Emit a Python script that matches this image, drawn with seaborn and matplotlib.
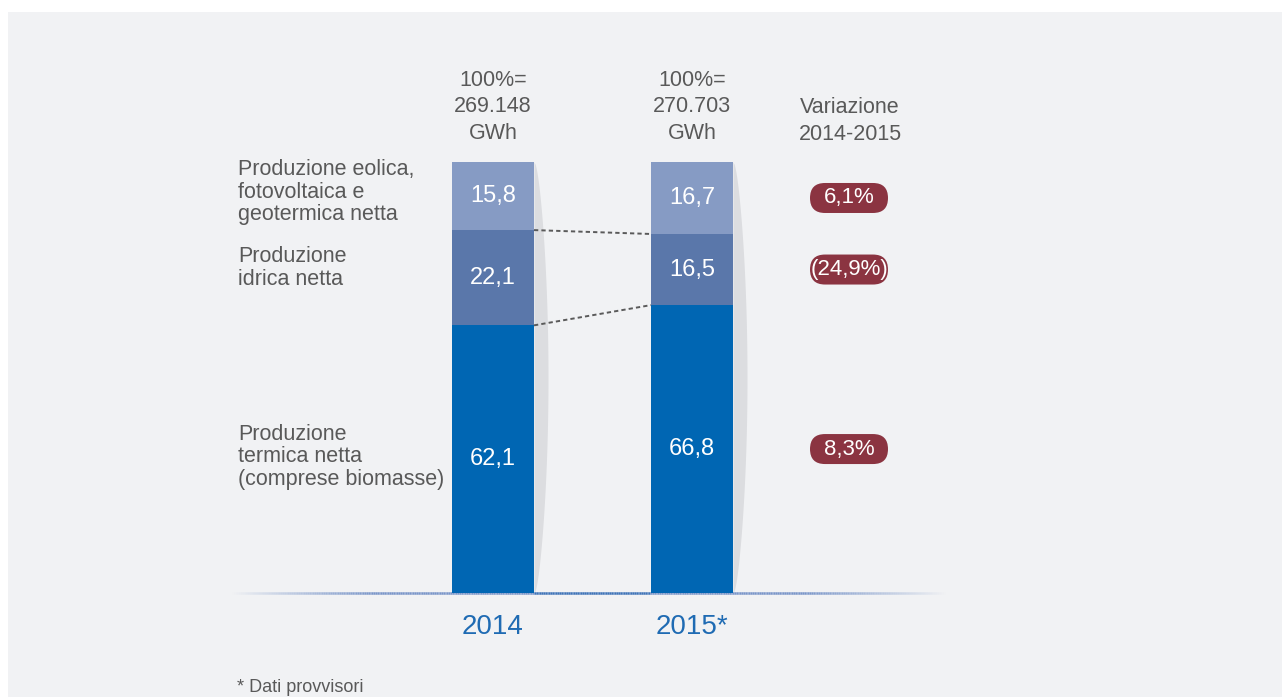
import numpy as np
import pandas as pd
import matplotlib
matplotlib.use("Agg")
import matplotlib.pyplot as plt
import seaborn as sns
from matplotlib.patches import Rectangle, FancyBboxPatch
from matplotlib.transforms import IdentityTransform
from matplotlib.collections import LineCollection

# ---- data -------------------------------------------------------------
years = ["2014", "2015*"]
totals_gwh = ["269.148", "270.703"]
source_labels = [
    "Produzione eolica,\nfotovoltaica e\ngeotermica netta",
    "Produzione\nidrica netta",
    "Produzione\ntermica netta\n(comprese biomasse)",
]
renewables = [15.8, 16.7]
hydro = [22.1, 16.5]
thermal = [62.1, 66.8]
changes = ["6,1%", "(24,9%)", "8,3%"]
footnote = "* Dati provvisori"

# ---- style ------------------------------------------------------------
W, H = 1282, 697
sns.set_theme(style="white")
plt.rcParams["font.family"] = ["Liberation Sans", "DejaVu Sans"]

C_REN = "#869bc4"
C_HYD = "#5a77aa"
C_THE = "#0066b3"
C_PILL = "#8b3441"
C_TEXT = "#595959"
C_YEAR = "#1f6bb3"
C_BG = "#f1f2f4"
C_SHADOW = "#dcdde0"

fig = plt.figure(figsize=(W / 100, H / 100), dpi=100, facecolor="white")
fig.patches.append(Rectangle((8 / W, 0), 1 - 8 / W, 1 - 12 / H,
                             transform=fig.transFigure, facecolor=C_BG,
                             edgecolor="none", zorder=-5))
ax = fig.add_axes([0, 0, 1, 1])
ax.set_facecolor("none")

# one category step = 199 px, 100 % = 431 px; origin at first bar / baseline
PX_X, PX_Y = 199.0, 4.31
X0, Y0 = 493.0, 593.0


def xpx(p):
    return (p - X0) / PX_X


def ypx(p):
    return (Y0 - p) / PX_Y


BAR_W = 82 / PX_X

df = pd.DataFrame({
    "anno": years,
    "rinnovabili": renewables,
    "idrica": hydro,
    "termica": thermal,
})
df["cum_top"] = df["rinnovabili"] + df["idrica"] + df["termica"]
df["cum_mid"] = df["idrica"] + df["termica"]
df["cum_low"] = df["termica"]

# stacked bars drawn back to front
for col, colr in [("cum_top", C_REN), ("cum_mid", C_HYD), ("cum_low", C_THE)]:
    sns.barplot(data=df, x="anno", y=col, order=years, color=colr,
                saturation=1, width=BAR_W, linewidth=0, ax=ax, zorder=3)

ax.set_xlim(xpx(0), xpx(W))
ax.set_ylim(ypx(H), ypx(0))
ax.set_axis_off()

# soft curved shadow on the right side of each bar
for i, tot in enumerate(df["cum_top"]):
    yy = np.linspace(0, tot, 200)
    t = 1 - yy / tot
    wid = (14 / PX_X) * np.sin(np.pi * t) ** 0.6
    xe = i + BAR_W / 2
    ax.fill_betweenx(yy, xe, xe + wid, color=C_SHADOW, lw=0, zorder=2)

# baseline fading at both ends, stronger blue between the bars
xs = np.linspace(xpx(232), xpx(945), 400)
segs = [[(xs[k], 0), (xs[k + 1], 0)] for k in range(len(xs) - 1)]
mid = 0.5 * (xs[:-1] + xs[1:])
fade = np.clip(np.minimum(mid - xs[0], xs[-1] - mid) / (140 / PX_X), 0, 1)
light = np.array(matplotlib.colors.to_rgb("#7a96c9"))
strong = np.array(matplotlib.colors.to_rgb("#3f74b8"))
between = ((mid > BAR_W / 2) & (mid < 1 - BAR_W / 2)).astype(float)
cols = [(*(light * (1 - b) + strong * b), a) for a, b in zip(fade, between)]
ax.add_collection(LineCollection(segs, colors=cols, linewidths=1.8, zorder=2.5))

# dashed connectors between segment boundaries
bounds = [df["cum_mid"].tolist(), df["cum_low"].tolist()]
for b in bounds:
    ax.plot([0 + BAR_W / 2, 1 - BAR_W / 2], b, ls=(0, (2.2, 1.6)),
            color="#5a5a5a", lw=1.4, zorder=4)

# value labels inside the segments
for i in range(len(years)):
    segs_i = [
        (df["cum_mid"][i] + df["rinnovabili"][i] / 2, df["rinnovabili"][i]),
        (df["cum_low"][i] + df["idrica"][i] / 2, df["idrica"][i]),
        (df["termica"][i] / 2, df["termica"][i]),
    ]
    for yc, v in segs_i:
        ax.text(i, yc, f"{v:.1f}".replace(".", ","), ha="center", va="center",
                color="white", fontsize=17, zorder=5)

# totals above bars
for i, tot in enumerate(totals_gwh):
    ax.text(i, ypx(107), f"100%=\n{tot}\nGWh", ha="center", va="center",
            color=C_TEXT, fontsize=15.5, linespacing=1.33)
ax.text(xpx(850), ypx(121), "Variazione\n2014-2015", ha="center", va="center",
        color=C_TEXT, fontsize=15.5, linespacing=1.33)

# segment names on the left
for lab, yp in zip(source_labels, [192, 268, 457]):
    ax.text(xpx(238), ypx(yp), lab, ha="left", va="center", color=C_TEXT,
            fontsize=15.5, linespacing=1.08)

# variation pills, aligned with the 2015 segments
row_y = [
    df["cum_mid"][1] + df["rinnovabili"][1] / 2,
    df["cum_low"][1] + df["idrica"][1] / 2,
    df["termica"][1] / 2,
]
fig.canvas.draw()
for lab, yc in zip(changes, row_y):
    cx, cy = ax.transData.transform((xpx(849), yc))
    pill = FancyBboxPatch((cx - 39, cy - 15), 78, 30,
                          boxstyle="round,pad=0,rounding_size=15",
                          transform=IdentityTransform(), facecolor=C_PILL,
                          edgecolor="none", zorder=4)
    ax.add_patch(pill)
    ax.text(xpx(849), yc, lab, ha="center", va="center", color="white",
            fontsize=16, zorder=5)

# year labels
for i, y in enumerate(years):
    ax.text(i, ypx(627), y, ha="center", va="center", color=C_YEAR, fontsize=20)

ax.text(xpx(237), ypx(679), footnote, ha="left", va="top", color=C_TEXT,
        fontsize=13)

fig.savefig("out.png", dpi=100, facecolor="white")
